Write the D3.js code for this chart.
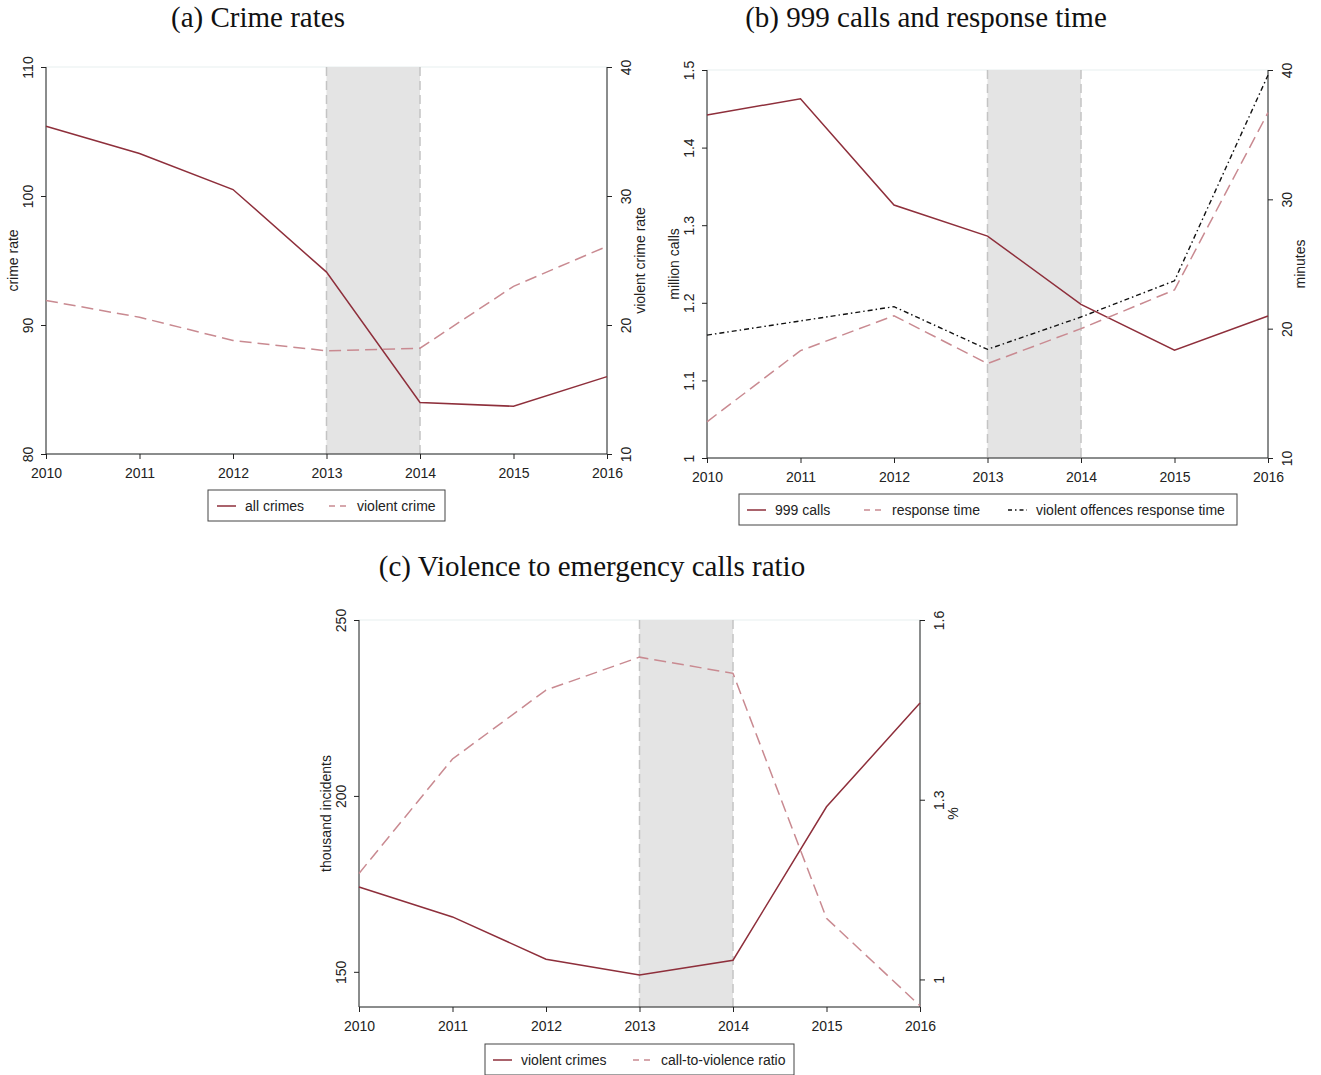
<!DOCTYPE html>
<html lang="en">
<head>
<meta charset="UTF-8">
<title>Crime, 999 calls and response time</title>
<style>
  body { margin: 0; background: #fff; }
  svg { display: block; }
  .tick text { font-family: 'Liberation Sans', Arial, sans-serif; font-size: 14px; fill: #222; }
  .lab { font-family: 'Liberation Sans', Arial, sans-serif; font-size: 14px; fill: #222; }
  .title { font-family: 'Liberation Serif', 'Times New Roman', serif; font-size: 29px; fill: #111; }
</style>
</head>
<body>
<div id="chart"></div>
<script src="https://d3js.org/d3.v7.min.js"></script>
<script>
// ---- data ----
const years = [2010, 2011, 2012, 2013, 2014, 2015, 2016];

// (a) crime rates
const allCrimes    = [105.4, 103.3, 100.5, 94.1, 84.0, 83.7, 86.0];
const violentCrime = [21.9, 20.6, 18.8, 18.0, 18.2, 23.0, 26.1];

// (b) 999 calls and response time
const calls999          = [1.442, 1.463, 1.326, 1.286, 1.198, 1.139, 1.183];
const responseTime      = [12.8, 18.3, 21.0, 17.3, 20.0, 23.0, 36.7];
const violentRespTime   = [19.5, 20.6, 21.7, 18.4, 20.9, 23.7, 39.6];

// (c) violence to emergency calls ratio
const violentCrimes     = [174.1, 165.6, 153.6, 149.1, 153.3, 196.9, 226.4];
const callViolenceRatio = [1.177, 1.368, 1.483, 1.538, 1.511, 1.102, 0.956];

const ticksA_left  = [80, 90, 100, 110];
const ticksA_right = [10, 20, 30, 40];
const ticksB_left  = [1, 1.1, 1.2, 1.3, 1.4, 1.5];
const ticksB_right = [10, 20, 30, 40];
const ticksC_left  = [150, 200, 250];
const ticksC_right = [1, 1.3, 1.6];
const shadeYears   = [2013, 2014];

const solid  = "#8e2f3b";
const dashed = "#c98a91";

const svg = d3.select("#chart").append("svg")
  .attr("width", 1321).attr("height", 1075);

function panel(cfg) {
  const x = d3.scaleLinear().domain([2010, 2016]).range([cfg.x0, cfg.x1]);
  const yL = d3.scaleLinear().domain(cfg.leftDomain).range([cfg.y1, cfg.y0]);
  const yR = d3.scaleLinear().domain(cfg.rightDomain).range([cfg.y1, cfg.y0]);
  const g = svg.append("g");

  // faint plot-region outline
  g.append("rect")
    .attr("x", cfg.x0).attr("y", cfg.y0)
    .attr("width", cfg.x1 - cfg.x0).attr("height", cfg.y1 - cfg.y0)
    .attr("fill", "none").attr("stroke", "#e8f0f0").attr("stroke-width", 1);

  // shaded band
  g.append("rect")
    .attr("x", x(shadeYears[0])).attr("y", cfg.y0)
    .attr("width", x(shadeYears[1]) - x(shadeYears[0]))
    .attr("height", cfg.y1 - cfg.y0)
    .attr("fill", "#e4e4e4");
  shadeYears.forEach(yr => {
    g.append("line")
      .attr("x1", x(yr)).attr("x2", x(yr))
      .attr("y1", cfg.y0).attr("y2", cfg.y1)
      .attr("stroke", "#c4c4c4").attr("stroke-width", 1.5)
      .attr("stroke-dasharray", "9,5");
  });

  // axes
  const ax = g.append("g").attr("transform", `translate(0,${cfg.y1})`)
    .call(d3.axisBottom(x).tickValues(years).tickFormat(d3.format("d")).tickSize(5).tickPadding(9));
  const aL = g.append("g").attr("transform", `translate(${cfg.x0},0)`)
    .call(d3.axisLeft(yL).tickValues(cfg.leftTicks).tickFormat(d => String(d)).tickSize(5).tickSizeOuter(0));
  const aR = g.append("g").attr("transform", `translate(${cfg.x1},0)`)
    .call(d3.axisRight(yR).tickValues(cfg.rightTicks).tickFormat(d => String(d)).tickSize(5).tickSizeOuter(0));
  [ax, aL, aR].forEach(a => {
    a.select(".domain").attr("stroke", "#222");
    a.selectAll(".tick line").attr("stroke", "#222");
  });
  ax.select(".domain").attr("d", `M${cfg.x0},0H${cfg.x1}`);
  aL.select(".domain").attr("d", `M0,${cfg.y0}V${cfg.y1}`);
  aR.select(".domain").attr("d", `M0,${cfg.y0}V${cfg.y1}`);
  aL.selectAll(".tick text")
    .attr("x", 0).attr("dy", 0)
    .attr("transform", "translate(-13,0) rotate(-90)")
    .attr("text-anchor", "middle");
  aR.selectAll(".tick text")
    .attr("x", 0).attr("dy", 0)
    .attr("transform", "translate(24,0) rotate(-90)")
    .attr("text-anchor", "middle");

  // axis titles
  const yMid = (cfg.y0 + cfg.y1) / 2;
  g.append("text").attr("class", "lab")
    .attr("transform", `translate(${cfg.leftTitleX},${yMid}) rotate(-90)`)
    .attr("text-anchor", "middle").text(cfg.leftTitle);
  g.append("text").attr("class", "lab")
    .attr("transform", `translate(${cfg.rightTitleX},${yMid}) rotate(-90)`)
    .attr("text-anchor", "middle").text(cfg.rightTitle);

  // series
  cfg.series.forEach(s => {
    const sc = s.axis === "left" ? yL : yR;
    const line = d3.line().x((d, i) => x(years[i])).y(d => sc(d));
    g.append("path")
      .attr("d", line(s.values))
      .attr("fill", "none")
      .attr("stroke", s.color)
      .attr("stroke-width", s.width || 1.5)
      .attr("stroke-dasharray", s.dash || null);
  });

  // title
  g.append("text").attr("class", "title")
    .attr("x", cfg.titleX).attr("y", cfg.titleY)
    .attr("text-anchor", "middle").text(cfg.title);

  // legend
  const lg = cfg.legend;
  g.append("rect")
    .attr("x", lg.x).attr("y", lg.y).attr("width", lg.w).attr("height", 31)
    .attr("fill", "#fff").attr("stroke", "#444").attr("stroke-width", 1);
  cfg.series.forEach((s, i) => {
    const ox = lg.x + lg.offsets[i];
    g.append("line")
      .attr("x1", ox).attr("x2", ox + 19)
      .attr("y1", lg.y + 16).attr("y2", lg.y + 16)
      .attr("stroke", s.color).attr("stroke-width", s.width || 1.5)
      .attr("stroke-dasharray", s.legendDash || null);
    g.append("text").attr("class", "lab")
      .attr("x", ox + 28).attr("y", lg.y + 21)
      .text(s.name);
  });
}

panel({
  title: "(a) Crime rates", titleX: 258, titleY: 27,
  x0: 46, x1: 607, y0: 67, y1: 454,
  leftDomain: [80, 110], rightDomain: [10, 40],
  leftTicks: ticksA_left, rightTicks: ticksA_right,
  leftTitle: "crime rate", leftTitleX: 18,
  rightTitle: "violent crime rate", rightTitleX: 645,
  series: [
    { name: "all crimes", values: allCrimes, axis: "left", color: solid },
    { name: "violent crime", values: violentCrime, axis: "right", color: dashed, dash: "12,6", legendDash: "6,5" }
  ],
  legend: { x: 208, y: 490, w: 237, offsets: [9, 121] }
});

panel({
  title: "(b) 999 calls and response time", titleX: 926, titleY: 27,
  x0: 707, x1: 1268, y0: 70, y1: 458,
  leftDomain: [1, 1.5], rightDomain: [10, 40],
  leftTicks: ticksB_left, rightTicks: ticksB_right,
  leftTitle: "million calls", leftTitleX: 679,
  rightTitle: "minutes", rightTitleX: 1305,
  series: [
    { name: "999 calls", values: calls999, axis: "left", color: solid },
    { name: "response time", values: responseTime, axis: "right", color: dashed, dash: "12,6", legendDash: "6,5" },
    { name: "violent offences response time", values: violentRespTime, axis: "right", color: "#111", width: 1.4, dash: "5,3,1.5,3", legendDash: "4,3,1.5,3" }
  ],
  legend: { x: 739, y: 494, w: 498, offsets: [8, 125, 269] }
});

panel({
  title: "(c) Violence to emergency calls ratio", titleX: 592, titleY: 576,
  x0: 359, x1: 920, y0: 620, y1: 1007,
  leftDomain: [140, 250], rightDomain: [0.954, 1.6],
  leftTicks: ticksC_left, rightTicks: ticksC_right,
  leftTitle: "thousand incidents", leftTitleX: 331,
  rightTitle: "%", rightTitleX: 958,
  series: [
    { name: "violent crimes", values: violentCrimes, axis: "left", color: solid },
    { name: "call-to-violence ratio", values: callViolenceRatio, axis: "right", color: dashed, dash: "12,6", legendDash: "6,5" }
  ],
  legend: { x: 485, y: 1044, w: 309, offsets: [8, 148] }
});
</script>
</body>
</html>
